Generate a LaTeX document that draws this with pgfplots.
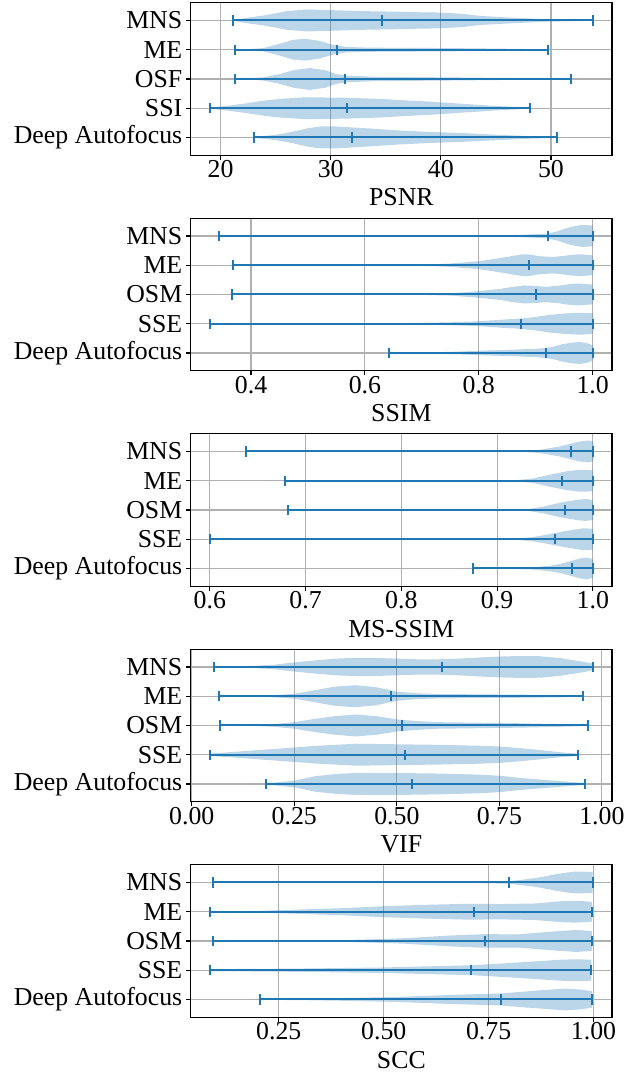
\documentclass[border=0pt]{standalone}
\usepackage{fontspec}
\setmainfont{Liberation Serif}
\usepackage{pgfplots}
\pgfplotsset{compat=1.18}
\usepgfplotslibrary{fillbetween}
\definecolor{c0}{HTML}{1F77B4}
\definecolor{gridgray}{HTML}{B0B0B0}

\pgfplotsset{
  vplot/.style={
    width=210.65pt, height=76.25pt, scale only axis,
    ymin=0.393, ymax=5.607, ytick={1,2,3,4,5},
    tick align=outside, xtick pos=bottom, ytick pos=left,
    major tick length=2.2pt,
    grid=major, grid style={gridgray, line width=0.55pt},
    axis line style={line width=0.6pt},
    every tick/.style={black, line width=0.55pt},
    tick label style={font=\fontsize{12.9}{14}\selectfont},
    xticklabel style={yshift=3pt},
    yticklabel style={xshift=1.5pt},
    label style={font=\fontsize{12.9}{14}\selectfont},
    xlabel style={yshift=1.5pt},
    /pgf/number format/assume math mode=true,
  },
}

% violin: position, table of x and relative half-width
\newcommand\violin[2]{%
  \addplot[draw=none, forget plot, name path=vu#1] table[row sep=\\, x=x, y expr=#1+0.375*\thisrow{w}] {#2};
  \addplot[draw=none, forget plot, name path=vl#1] table[row sep=\\, x=x, y expr=#1-0.375*\thisrow{w}] {#2};
  \addplot[fill=c0, fill opacity=0.3, draw=none, forget plot] fill between[of=vu#1 and vl#1];
}
% min--max bar with caps and median
\newcommand\whiskers[1]{%
  \addplot[c0, line width=1pt, only marks, mark=|, mark size=2.6pt,
    error bars/.cd, x dir=both, x explicit, error mark=|,
    error bar style={c0, line width=1pt},
    error mark options={c0, mark size=2.6pt, line width=1pt}]
  table[row sep=\\, x=med, y=pos,
    x error plus expr=\thisrow{max}-\thisrow{med},
    x error minus expr=\thisrow{med}-\thisrow{min}] {#1};
}

\begin{document}
\begin{tikzpicture}

% PSNR
\begin{axis}[vplot, at={(0pt,0pt)}, anchor=north west,
  xmin=17.29, xmax=55.54, xtick={20,30,40,50},
  yticklabels={Deep Autofocus,SSI,OSF,ME,MNS}, xlabel={PSNR}]
\violin{5}{x w \\ 21.1 0.03 \\ 22.4 0.25 \\ 23.9 0.45 \\ 25 0.65 \\ 26 0.85 \\ 27.8 1 \\ 30 0.94 \\ 33 0.85 \\ 36 0.8 \\ 38 0.75 \\ 40 0.72 \\ 42 0.6 \\ 43.5 0.42 \\ 46.5 0.25 \\ 49.6 0.12 \\ 53.8 0.03 \\}
\violin{4}{x w \\ 21.27 0.02 \\ 22.5 0.05 \\ 23.9 0.15 \\ 25.4 0.55 \\ 26.6 0.9 \\ 27.7 1 \\ 29 0.8 \\ 30.2 0.45 \\ 31.4 0.25 \\ 33 0.2 \\ 34.5 0.18 \\ 40.5 0.15 \\ 45 0.1 \\ 49.7 0.03 \\}
\violin{3}{x w \\ 21.3 0.02 \\ 22.5 0.05 \\ 23.9 0.15 \\ 25.4 0.45 \\ 26.6 0.8 \\ 28.1 1 \\ 29.5 0.8 \\ 30.5 0.45 \\ 31.5 0.3 \\ 34 0.2 \\ 40 0.15 \\ 45 0.1 \\ 51.84 0.03 \\}
\violin{2}{x w \\ 19.03 0.05 \\ 20.5 0.2 \\ 22.4 0.45 \\ 24 0.7 \\ 25.4 0.85 \\ 27.8 1 \\ 31.5 0.95 \\ 34.5 0.85 \\ 37 0.7 \\ 39 0.6 \\ 42 0.4 \\ 45 0.2 \\ 48.1 0.05 \\}
\violin{1}{x w \\ 23.0 0.05 \\ 24.2 0.15 \\ 25.4 0.3 \\ 26.9 0.6 \\ 28 0.85 \\ 29 1 \\ 30.5 1 \\ 33 0.85 \\ 36 0.65 \\ 39 0.5 \\ 42 0.4 \\ 45 0.25 \\ 48 0.12 \\ 50.57 0.04 \\}
\whiskers{pos min med max \\ 5 21.1 34.65 53.8 \\ 4 21.27 30.57 49.7 \\ 3 21.3 31.3 51.84 \\ 2 19.03 31.5 48.1 \\ 1 23.0 31.9 50.57 \\}
\end{axis}

% SSIM
\begin{axis}[vplot, at={(0pt,-107.75pt)}, anchor=north west,
  xmin=0.294, xmax=1.034, xtick={0.4,0.6,0.8,1.0},
  xticklabel style={/pgf/number format/.cd, fixed, fixed zerofill, precision=1},
  yticklabels={Deep Autofocus,SSE,OSM,ME,MNS}, xlabel={SSIM}]
\violin{5}{x w \\ 0.344 0.01 \\ 0.5 0.01 \\ 0.6 0.02 \\ 0.7 0.03 \\ 0.8 0.05 \\ 0.87 0.1 \\ 0.92 0.2 \\ 0.94 0.45 \\ 0.96 0.8 \\ 0.98 1 \\ 0.99 0.98 \\ 1.0 0.95 \\}
\violin{4}{x w \\ 0.369 0.01 \\ 0.5 0.01 \\ 0.6 0.02 \\ 0.7 0.05 \\ 0.75 0.15 \\ 0.8 0.36 \\ 0.837 0.65 \\ 0.86 0.85 \\ 0.878 1 \\ 0.89 0.97 \\ 0.907 0.82 \\ 0.93 0.75 \\ 0.95 0.85 \\ 0.965 0.95 \\ 0.98 1 \\ 1.0 0.9 \\}
\violin{3}{x w \\ 0.366 0.01 \\ 0.5 0.01 \\ 0.6 0.02 \\ 0.7 0.04 \\ 0.75 0.1 \\ 0.8 0.3 \\ 0.837 0.5 \\ 0.86 0.7 \\ 0.88 0.82 \\ 0.9 0.78 \\ 0.918 0.7 \\ 0.94 0.8 \\ 0.96 0.95 \\ 0.975 1 \\ 1.0 0.9 \\}
\violin{2}{x w \\ 0.328 0.01 \\ 0.5 0.02 \\ 0.6 0.03 \\ 0.7 0.08 \\ 0.75 0.13 \\ 0.8 0.22 \\ 0.85 0.4 \\ 0.875 0.47 \\ 0.9 0.62 \\ 0.924 0.8 \\ 0.95 0.93 \\ 0.977 1 \\ 1.0 0.95 \\}
\violin{1}{x w \\ 0.643 0.02 \\ 0.7 0.05 \\ 0.75 0.1 \\ 0.8 0.2 \\ 0.85 0.28 \\ 0.9 0.38 \\ 0.918 0.45 \\ 0.935 0.62 \\ 0.947 0.8 \\ 0.965 0.95 \\ 0.977 1 \\ 0.99 0.9 \\ 1.0 0.7 \\}
\whiskers{pos min med max \\ 5 0.344 0.921 1.0 \\ 4 0.369 0.889 1.0 \\ 3 0.366 0.900 1.0 \\ 2 0.328 0.875 1.0 \\ 1 0.643 0.918 1.0 \\}
\end{axis}

% MS-SSIM
\begin{axis}[vplot, at={(0pt,-215.5pt)}, anchor=north west,
  xmin=0.58, xmax=1.02, xtick={0.6,0.7,0.8,0.9,1.0},
  xticklabel style={/pgf/number format/.cd, fixed, fixed zerofill, precision=1},
  yticklabels={Deep Autofocus,SSE,OSM,ME,MNS}, xlabel={MS-SSIM}]
\violin{5}{x w \\ 0.638 0.01 \\ 0.8 0.01 \\ 0.9 0.02 \\ 0.93 0.05 \\ 0.945 0.15 \\ 0.955 0.3 \\ 0.965 0.45 \\ 0.972 0.6 \\ 0.98 0.78 \\ 0.986 0.9 \\ 0.995 1 \\ 1.0 0.9 \\}
\violin{4}{x w \\ 0.679 0.01 \\ 0.8 0.01 \\ 0.9 0.03 \\ 0.92 0.05 \\ 0.9375 0.2 \\ 0.955 0.55 \\ 0.965 0.72 \\ 0.972 0.85 \\ 0.986 1 \\ 0.995 0.98 \\ 1.0 0.95 \\}
\violin{3}{x w \\ 0.6815 0.01 \\ 0.8 0.01 \\ 0.9 0.02 \\ 0.93 0.05 \\ 0.948 0.3 \\ 0.965 0.65 \\ 0.976 0.82 \\ 0.986 0.95 \\ 0.993 1 \\ 1.0 0.9 \\}
\violin{2}{x w \\ 0.600 0.01 \\ 0.8 0.01 \\ 0.9 0.03 \\ 0.92 0.05 \\ 0.9375 0.2 \\ 0.95 0.38 \\ 0.96 0.55 \\ 0.97 0.72 \\ 0.979 0.85 \\ 0.99 1 \\ 1.0 0.95 \\}
\violin{1}{x w \\ 0.875 0.01 \\ 0.903 0.03 \\ 0.92 0.06 \\ 0.9375 0.1 \\ 0.955 0.25 \\ 0.965 0.4 \\ 0.972 0.55 \\ 0.98 0.75 \\ 0.986 0.9 \\ 0.993 1 \\ 1.0 0.85 \\}
\whiskers{pos min med max \\ 5 0.638 0.977 1.0 \\ 4 0.679 0.968 1.0 \\ 3 0.6815 0.971 1.0 \\ 2 0.600 0.960 1.0 \\ 1 0.875 0.9785 1.0 \\}
\end{axis}

% VIF
\begin{axis}[vplot, at={(0pt,-323.25pt)}, anchor=north west,
  xmin=-0.0027, xmax=1.0247, xtick={0,0.25,0.5,0.75,1},
  xticklabel style={/pgf/number format/.cd, fixed, fixed zerofill, precision=2},
  yticklabels={Deep Autofocus,SSE,OSM,ME,MNS}, xlabel={VIF}]
\violin{5}{x w \\ 0.054 0.02 \\ 0.1 0.05 \\ 0.15 0.1 \\ 0.2 0.2 \\ 0.25 0.42 \\ 0.3 0.6 \\ 0.35 0.76 \\ 0.4 0.83 \\ 0.45 0.82 \\ 0.5 0.76 \\ 0.55 0.7 \\ 0.6 0.7 \\ 0.65 0.76 \\ 0.7 0.86 \\ 0.75 0.95 \\ 0.8 1 \\ 0.85 0.98 \\ 0.9 0.8 \\ 0.95 0.5 \\ 0.978 0.32 \\}
\violin{4}{x w \\ 0.067 0.02 \\ 0.15 0.05 \\ 0.2 0.1 \\ 0.25 0.22 \\ 0.3 0.55 \\ 0.35 0.88 \\ 0.4 1 \\ 0.45 0.82 \\ 0.5 0.42 \\ 0.55 0.26 \\ 0.6 0.2 \\ 0.7 0.17 \\ 0.8 0.14 \\ 0.9 0.1 \\ 0.954 0.05 \\}
\violin{3}{x w \\ 0.068 0.02 \\ 0.15 0.05 \\ 0.2 0.12 \\ 0.25 0.3 \\ 0.3 0.6 \\ 0.35 0.85 \\ 0.4 1 \\ 0.45 0.85 \\ 0.5 0.55 \\ 0.55 0.4 \\ 0.6 0.3 \\ 0.7 0.25 \\ 0.8 0.2 \\ 0.9 0.12 \\ 0.967 0.05 \\}
\violin{2}{x w \\ 0.044 0.1 \\ 0.1 0.25 \\ 0.2 0.52 \\ 0.3 0.8 \\ 0.4 1 \\ 0.5 0.95 \\ 0.6 0.9 \\ 0.7 0.82 \\ 0.75 0.75 \\ 0.8 0.6 \\ 0.85 0.42 \\ 0.9 0.22 \\ 0.941 0.1 \\}
\violin{1}{x w \\ 0.181 0.05 \\ 0.25 0.3 \\ 0.3 0.7 \\ 0.35 0.9 \\ 0.4 1 \\ 0.5 1 \\ 0.6 0.95 \\ 0.7 0.85 \\ 0.75 0.75 \\ 0.8 0.55 \\ 0.9 0.25 \\ 0.959 0.08 \\}
\whiskers{pos min med max \\ 5 0.054 0.611 0.978 \\ 4 0.067 0.486 0.954 \\ 3 0.068 0.513 0.967 \\ 2 0.044 0.519 0.941 \\ 1 0.181 0.538 0.959 \\}
\end{axis}

% SCC
\begin{axis}[vplot, at={(0pt,-431pt)}, anchor=north west,
  xmin=0.040, xmax=1.044, xtick={0.25,0.5,0.75,1},
  xticklabel style={/pgf/number format/.cd, fixed, fixed zerofill, precision=2},
  yticklabels={Deep Autofocus,SSE,OSM,ME,MNS}, xlabel={SCC}]
\violin{5}{x w \\ 0.093 0.01 \\ 0.4 0.01 \\ 0.6 0.02 \\ 0.7 0.04 \\ 0.8 0.12 \\ 0.83 0.25 \\ 0.862 0.4 \\ 0.89 0.6 \\ 0.91 0.75 \\ 0.935 0.9 \\ 0.958 1 \\ 0.98 0.98 \\ 0.998 0.95 \\}
\violin{4}{x w \\ 0.086 0.02 \\ 0.2 0.08 \\ 0.3 0.2 \\ 0.4 0.32 \\ 0.5 0.5 \\ 0.6 0.63 \\ 0.7 0.72 \\ 0.78 0.7 \\ 0.86 0.75 \\ 0.92 0.95 \\ 0.958 1 \\ 0.98 0.95 \\ 0.996 0.9 \\}
\violin{3}{x w \\ 0.093 0.01 \\ 0.3 0.03 \\ 0.4 0.08 \\ 0.5 0.18 \\ 0.55 0.25 \\ 0.66 0.5 \\ 0.74 0.62 \\ 0.82 0.6 \\ 0.9 0.85 \\ 0.958 1 \\ 0.98 0.95 \\ 0.996 0.9 \\}
\violin{2}{x w \\ 0.086 0.1 \\ 0.2 0.12 \\ 0.3 0.15 \\ 0.4 0.2 \\ 0.5 0.25 \\ 0.55 0.3 \\ 0.71 0.45 \\ 0.82 0.7 \\ 0.918 0.95 \\ 0.958 1 \\ 0.995 0.95 \\}
\violin{1}{x w \\ 0.206 0.03 \\ 0.3 0.06 \\ 0.4 0.12 \\ 0.5 0.2 \\ 0.55 0.25 \\ 0.65 0.4 \\ 0.78 0.55 \\ 0.862 0.8 \\ 0.934 1 \\ 0.97 0.9 \\ 0.996 0.75 \\}
\whiskers{pos min med max \\ 5 0.093 0.7995 0.998 \\ 4 0.086 0.714 0.996 \\ 3 0.093 0.7425 0.996 \\ 2 0.086 0.7085 0.995 \\ 1 0.206 0.779 0.996 \\}
\end{axis}

\pgfresetboundingbox
\useasboundingbox (-95.35pt,1.35pt) rectangle (222.65pt,-534.65pt);
\end{tikzpicture}
\end{document}
